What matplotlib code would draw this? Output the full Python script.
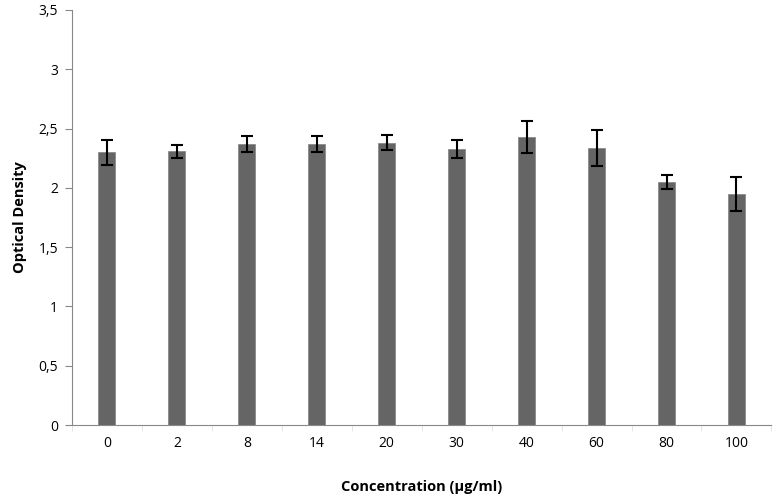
import matplotlib.pyplot as plt
import numpy as np

# data
concentrations = ['0', '2', '8', '14', '20', '30', '40', '60', '80', '100']
optical_density = [2.30, 2.31, 2.37, 2.37, 2.38, 2.325, 2.43, 2.335, 2.05, 1.95]
od_error = [0.105, 0.055, 0.065, 0.07, 0.065, 0.075, 0.135, 0.155, 0.06, 0.145]
y_ticks = [0, 0.5, 1, 1.5, 2, 2.5, 3, 3.5]
y_tick_labels = ['0', '0,5', '1', '1,5', '2', '2,5', '3', '3,5']

plt.rcParams['font.family'] = ['Open Sans', 'DejaVu Sans']

fig = plt.figure(figsize=(7.73, 4.96), dpi=100)
ax = fig.add_axes([0.093, 0.143, 0.905, 0.837])

x = np.arange(len(concentrations))
ax.bar(x, optical_density, width=0.24, color='#656565', edgecolor='#8a8a8a', linewidth=0.6,
       yerr=od_error, error_kw=dict(ecolor='black', elinewidth=1.5, capsize=4, capthick=1.5))

ax.set_xlim(-0.5, len(concentrations) - 0.5)
ax.set_ylim(0, 3.5)
ax.set_yticks(y_ticks)
ax.set_yticklabels(y_tick_labels, fontsize=10)
ax.set_xticks(x)
ax.set_xticklabels(concentrations, fontsize=10)
ax.set_xticks(np.arange(-0.5, len(concentrations)), minor=True)

ax.spines['top'].set_visible(False)
ax.spines['right'].set_visible(False)
for side in ['left', 'bottom']:
    ax.spines[side].set_color('#888888')
ax.tick_params(axis='y', direction='out', length=5, color='#888888', pad=5)
ax.tick_params(axis='x', which='major', length=0, pad=8)
ax.tick_params(axis='x', which='minor', direction='out', length=4, color='#e0e0e0')

ax.set_xlabel('Concentration (µg/ml)', fontsize=10.5, fontweight='bold', labelpad=21)
ax.set_ylabel('Optical Density', fontsize=10.5, fontweight='bold', labelpad=8)

fig.savefig('out.png', dpi=100)
